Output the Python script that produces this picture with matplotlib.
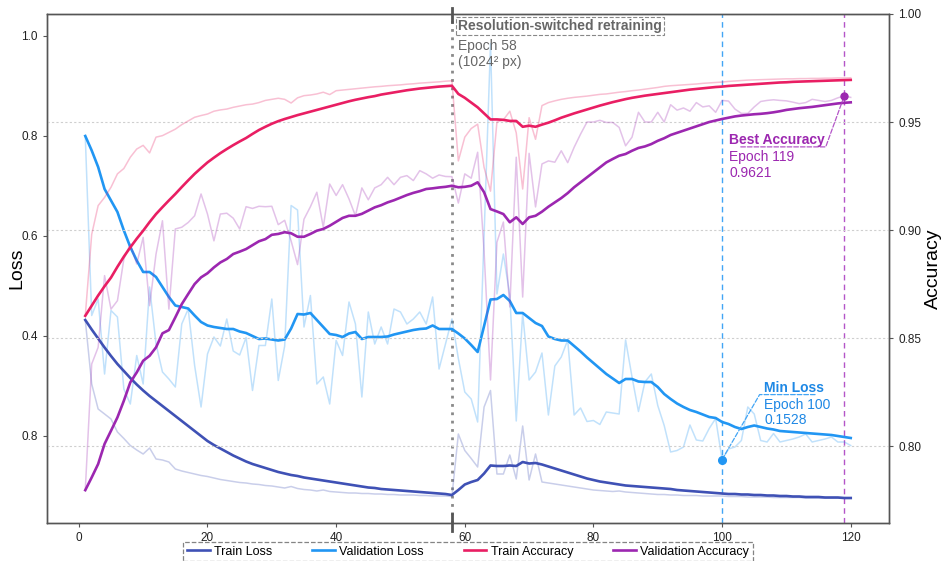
import matplotlib
matplotlib.use("Agg")

import numpy as np
import matplotlib.pyplot as plt

plt.rcParams["font.family"] = ["Liberation Sans", "DejaVu Sans"]

# ── Training history (per epoch) ─────────────────────────────────────────────
epochs = np.arange(1, 121)

train_loss_raw = [
    .432, .304, .254, .244, .234, .208, .195, .181, .172, .164,
    .176, .154, .152, .148, .134, .130, .127, .124, .121, .119,
    .116, .113, .111, .109, .107, .106, .104, .103, .101, .100,
    .098, .096, .099, .095, .093, .092, .090, .092, .089, .088,
    .087, .086, .086, .085, .085, .084, .084, .083, .083, .082,
    .082, .082, .081, .081, .080, .080, .080, .079, .204, .171,
    .155, .138, .258, .291, .124, .124, .162, .114, .220, .112,
    .164, .108, .106, .104, .102, .100, .098, .096, .094, .092,
    .091, .090, .089, .090, .088, .087, .086, .085, .084, .083,
    .083, .082, .082, .081, .081, .081, .080, .080, .080, .080,
    .079, .079, .079, .078, .078, .078, .078, .077, .077, .077,
    .077, .077, .076, .076, .076, .076, .076, .076, .076, .076,
]
train_loss_smooth = [
    .432, .413, .395, .377, .360, .344, .330, .316, .303, .291,
    .280, .270, .260, .250, .240, .230, .220, .210, .200, .190,
    .182, .175, .168, .161, .155, .149, .144, .140, .136, .132,
    .128, .125, .122, .120, .117, .115, .113, .111, .109, .107,
    .105, .103, .101, .099, .097, .096, .094, .093, .092, .091,
    .090, .089, .088, .087, .086, .085, .084, .082, .092, .103,
    .108, .112, .125, .141, .140, .140, .141, .140, .148, .145,
    .146, .143, .139, .135, .131, .127, .123, .119, .115, .112,
    .109, .107, .105, .103, .101, .100, .099, .098, .097, .096,
    .095, .094, .092, .091, .090, .089, .088, .087, .086, .085,
    .084, .084, .083, .083, .082, .082, .081, .081, .080, .080,
    .079, .079, .078, .078, .078, .077, .077, .077, .076, .076,
]
val_loss_raw = [
    .800, .441, .474, .324, .451, .438, .294, .264, .361, .304,
    .498, .384, .328, .314, .298, .424, .454, .341, .258, .364,
    .398, .380, .434, .370, .362, .397, .291, .381, .381, .474,
    .311, .380, .661, .652, .418, .481, .304, .318, .264, .391,
    .361, .468, .424, .278, .448, .384, .418, .384, .454, .448,
    .424, .434, .448, .424, .478, .334, .384, .434, .355, .288,
    .274, .228, .600, .985, .484, .564, .481, .230, .445, .312,
    .328, .366, .242, .340, .358, .392, .242, .256, .229, .231,
    .223, .248, .246, .244, .392, .318, .249, .308, .324, .261,
    .221, .168, .171, .178, .222, .192, .190, .215, .235, .1528,
    .174, .178, .191, .258, .244, .191, .188, .205, .188, .191,
    .194, .198, .204, .188, .191, .194, .198, .188, .188, .181,
]
val_loss_smooth = [
    .800, .771, .738, .694, .671, .648, .611, .578, .551, .528,
    .528, .518, .498, .478, .461, .458, .455, .441, .428, .421,
    .418, .416, .414, .414, .409, .406, .400, .394, .395, .393,
    .391, .393, .415, .444, .443, .446, .432, .418, .404, .402,
    .398, .405, .408, .394, .398, .398, .398, .399, .403, .406,
    .409, .412, .414, .415, .421, .414, .414, .414, .405, .395,
    .382, .368, .420, .473, .474, .482, .470, .446, .446, .436,
    .426, .420, .399, .394, .391, .391, .380, .369, .357, .346,
    .335, .324, .315, .306, .314, .314, .309, .308, .308, .298,
    .284, .274, .265, .258, .252, .248, .243, .238, .236, .228,
    .224, .218, .214, .218, .221, .218, .215, .213, .210, .209,
    .208, .207, .206, .205, .204, .203, .202, .200, .198, .196,
]
train_acc_raw = [
    .8603, .8980, .9113, .9151, .9198, .9260, .9285, .9337, .9375, .9392,
    .9357, .9430, .9437, .9452, .9467, .9488, .9505, .9522, .9530, .9537,
    .9550, .9556, .9560, .9568, .9574, .9580, .9583, .9590, .9600, .9605,
    .9610, .9605, .9588, .9612, .9622, .9625, .9630, .9638, .9627, .9645,
    .9648, .9651, .9654, .9657, .9660, .9663, .9665, .9668, .9670, .9672,
    .9675, .9677, .9680, .9682, .9684, .9686, .9689, .9691, .9320, .9430,
    .9470, .9490, .9290, .9180, .9500, .9510, .9550, .9450, .9190, .9520,
    .9420, .9576, .9590, .9598, .9605, .9610, .9614, .9617, .9620, .9624,
    .9628, .9630, .9634, .9638, .9641, .9645, .9648, .9652, .9656, .9660,
    .9665, .9668, .9670, .9672, .9674, .9676, .9679, .9681, .9683, .9685,
    .9688, .9690, .9692, .9694, .9695, .9696, .9697, .9698, .9699, .9700,
    .9700, .9701, .9701, .9702, .9702, .9703, .9703, .9704, .9704, .9705,
]
train_acc_smooth = [
    .8603, .8650, .8697, .8740, .8780, .8830, .8877, .8920, .8960, .8997,
    .9037, .9074, .9106, .9137, .9167, .9199, .9230, .9260, .9287, .9313,
    .9335, .9356, .9375, .9393, .9410, .9426, .9445, .9463, .9478, .9492,
    .9504, .9514, .9523, .9532, .9540, .9548, .9556, .9564, .9572, .9580,
    .9588, .9596, .9603, .9609, .9615, .9620, .9627, .9632, .9637, .9642,
    .9647, .9651, .9655, .9658, .9661, .9664, .9666, .9668, .9630, .9612,
    .9590, .9568, .9540, .9512, .9512, .9510, .9505, .9505, .9478, .9483,
    .9478, .9488, .9497, .9508, .9520, .9530, .9540, .9549, .9558, .9567,
    .9576, .9584, .9592, .9599, .9606, .9612, .9617, .9622, .9626, .9630,
    .9634, .9638, .9642, .9646, .9650, .9653, .9656, .9659, .9662, .9664,
    .9667, .9669, .9671, .9673, .9675, .9677, .9679, .9681, .9683, .9684,
    .9686, .9687, .9688, .9689, .9690, .9691, .9692, .9693, .9694, .9695,
]
val_acc_raw = [
    .7796, .8380, .8457, .8789, .8634, .8673, .8866, .8935, .8843, .8966,
    .8650, .8889, .9043, .8634, .9005, .9013, .9035, .9066, .9167, .9074,
    .8950, .9074, .9078, .9055, .9005, .9108, .9100, .9110, .9108, .9110,
    .9025, .9045, .8950, .8840, .9050, .9108, .9175, .9013, .9213, .9160,
    .9210, .9144, .9066, .9195, .9140, .9195, .9210, .9244, .9210, .9244,
    .9252, .9229, .9275, .9260, .9240, .9255, .9248, .9247, .9125, .9260,
    .9240, .9360, .8900, .8306, .8944, .9037, .8644, .9337, .8690, .9355,
    .9107, .9306, .9320, .9314, .9367, .9312, .9383, .9444, .9500, .9500,
    .9508, .9498, .9498, .9475, .9390, .9430, .9545, .9500, .9500, .9545,
    .9500, .9580, .9555, .9565, .9550, .9590, .9570, .9575, .9545, .9600,
    .9597, .9560, .9540, .9540, .9570, .9595, .9600, .9603, .9600, .9598,
    .9592, .9585, .9590, .9605, .9600, .9595, .9600, .9612, .9621, .9614,
]
val_acc_smooth = [
    .7796, .7855, .7917, .8010, .8071, .8133, .8210, .8295, .8341, .8395,
    .8418, .8457, .8522, .8537, .8596, .8657, .8704, .8750, .8781, .8800,
    .8827, .8850, .8866, .8889, .8900, .8912, .8930, .8948, .8958, .8978,
    .8982, .8990, .8985, .8969, .8969, .8982, .8997, .9005, .9020, .9038,
    .9056, .9066, .9066, .9075, .9090, .9105, .9115, .9128, .9138, .9150,
    .9162, .9172, .9180, .9190, .9193, .9197, .9200, .9205, .9198, .9200,
    .9205, .9221, .9175, .9097, .9086, .9074, .9036, .9059, .9028, .9059,
    .9066, .9085, .9108, .9128, .9148, .9171, .9198, .9221, .9244, .9267,
    .9290, .9313, .9329, .9344, .9352, .9367, .9380, .9387, .9398, .9413,
    .9425, .9440, .9450, .9460, .9470, .9480, .9490, .9500, .9507, .9514,
    .9520, .9526, .9530, .9533, .9536, .9538, .9541, .9545, .9550, .9556,
    .9560, .9564, .9567, .9570, .9574, .9578, .9582, .9586, .9589, .9591,
]

SWITCH_EPOCH = 58
loss_ticks = [0.2, 0.4, 0.6, 0.8, 1.0]
loss_tick_labels = ["0.8", "0.4", "0.6", "0.8", "1.0"]
acc_ticks = [0.80, 0.85, 0.90, 0.95, 1.00]
x_ticks = [0, 20, 40, 60, 80, 100, 120]

# ── Style ────────────────────────────────────────────────────────────────────
C_TL = "#3F51B5"   # train loss
C_VL = "#2196F3"   # validation loss
C_TA = "#E91E63"   # train accuracy
C_VA = "#9C27B0"   # validation accuracy
RAW_ALPHA = 0.28
LW_RAW = 1.1
LW = 1.9

fig, ax = plt.subplots(figsize=(9.51, 5.61), dpi=100)
fig.subplots_adjust(left=47 / 951, right=889 / 951, bottom=1 - 523 / 561, top=1 - 14 / 561)
ax2 = ax.twinx()

# raw (faint) and smoothed curves
ax.plot(epochs, train_loss_raw, color=C_TL, lw=LW_RAW, alpha=RAW_ALPHA)
ax.plot(epochs, val_loss_raw, color=C_VL, lw=LW_RAW, alpha=RAW_ALPHA)
l_tl, = ax.plot(epochs, train_loss_smooth, color=C_TL, lw=LW, label="Train Loss")
l_vl, = ax.plot(epochs, val_loss_smooth, color=C_VL, lw=LW, label="Validation Loss")

ax2.plot(epochs, train_acc_raw, color=C_TA, lw=LW_RAW, alpha=RAW_ALPHA)
ax2.plot(epochs, val_acc_raw, color=C_VA, lw=LW_RAW, alpha=RAW_ALPHA)
l_ta, = ax2.plot(epochs, train_acc_smooth, color=C_TA, lw=LW, label="Train Accuracy")
l_va, = ax2.plot(epochs, val_acc_smooth, color=C_VA, lw=LW, label="Validation Accuracy")

# ── Axes ─────────────────────────────────────────────────────────────────────
ax.set_ylim(0.026, 1.044)
ax2.set_ylim(0.7644, 1.0)
ax.set_xticks(x_ticks)
ax.set_yticks(loss_ticks)
ax.set_yticklabels(loss_tick_labels)
ax2.set_yticks(acc_ticks)
ax2.set_yticklabels([f"{t:.2f}" for t in acc_ticks])

ax.set_ylabel("Loss", fontsize=14)
ax.yaxis.set_label_coords(-0.026, 0.5)
ax2.set_ylabel("Accuracy", fontsize=14, labelpad=3)

for a in (ax, ax2):
    a.tick_params(labelsize=8.5, length=3, width=0.8, color="#555", labelcolor="#222")
    for s in a.spines.values():
        s.set_color("#555")
        s.set_linewidth(1.0)

ax2.yaxis.grid(True, linestyle=(0, (2, 2)), color="#cfcfcf", linewidth=0.8)
ax2.set_axisbelow(True)

# ── Resolution switch marker ─────────────────────────────────────────────────
ax.axvline(SWITCH_EPOCH, color="#8a8a8a", lw=2.0, ls=(0, (1, 2)), zorder=1)
for y0, y1 in ((0.984, 1.012), (-0.016, 0.018)):
    ax.plot([SWITCH_EPOCH, SWITCH_EPOCH], [y0, y1], color="#555", lw=2.0,
            transform=ax.get_xaxis_transform(), clip_on=False, zorder=5)

ax2.annotate("Resolution-switched retraining", xy=(SWITCH_EPOCH, 1.0),
             xycoords=("data", "axes fraction"), xytext=(6, -5), textcoords="offset pixels",
             ha="left", va="top", fontsize=10, fontweight="bold", color="#666",
             bbox=dict(boxstyle="square,pad=0.15", fc="white", ec="#888", ls="--", lw=0.8))
ax2.annotate(f"Epoch {SWITCH_EPOCH}\n(1024² px)", xy=(SWITCH_EPOCH, 1.0),
             xycoords=("data", "axes fraction"), xytext=(6, -25), textcoords="offset pixels",
             ha="left", va="top", fontsize=10, color="#666", linespacing=1.15)

# ── Best accuracy / min loss callouts ────────────────────────────────────────
best_i = int(np.argmax(val_acc_raw))
best_ep, best_acc = epochs[best_i], val_acc_raw[best_i]
min_i = int(np.argmin(val_loss_raw))
min_ep, min_loss = epochs[min_i], val_loss_raw[min_i]

ax.axvline(min_ep, color="#42A5F5", lw=1.0, ls=(0, (4, 3)), zorder=1)
ax.axvline(best_ep, color="#B455C8", lw=1.0, ls=(0, (4, 3)), zorder=1)

ax.plot(min_ep, min_loss, "o", color=C_VL, ms=5.5, zorder=6)
ax2.plot(best_ep, best_acc, "o", color=C_VA, ms=5, zorder=6)

ax2.annotate("Best Accuracy", xy=(best_ep, best_acc), xytext=(-115, -51),
             textcoords="offset pixels", ha="left", va="bottom",
             fontsize=10, fontweight="bold", color=C_VA,
             arrowprops=dict(arrowstyle="-", color="#B455C8", lw=0.9, ls="--",
                             relpos=(0.12, 0), patchA=None, shrinkA=0, shrinkB=3,
                             connectionstyle="angle,angleA=0,angleB=70,rad=0"))
ax2.annotate(f"Epoch {best_ep}\n{best_acc:.4f}", xy=(best_ep, best_acc), xytext=(-115, -54),
             textcoords="offset pixels", ha="left", va="top",
             fontsize=10, color=C_VA, linespacing=1.15)

ax.annotate("Min Loss", xy=(min_ep, min_loss), xytext=(42, 65),
            textcoords="offset pixels", ha="left", va="bottom",
            fontsize=10, fontweight="bold", color="#1E88E5",
            arrowprops=dict(arrowstyle="-", color="#42A5F5", lw=0.9, ls="--",
                            relpos=(0.85, 0), patchA=None, shrinkA=0, shrinkB=3,
                            connectionstyle="angle,angleA=0,angleB=60,rad=0"))
ax.annotate(f"Epoch {min_ep}\n{min_loss:.4f}", xy=(min_ep, min_loss), xytext=(42, 62),
            textcoords="offset pixels", ha="left", va="top",
            fontsize=10, color="#1E88E5", linespacing=1.15)

# ── Legend ───────────────────────────────────────────────────────────────────
leg = ax2.legend(handles=[l_tl, l_vl, l_ta, l_va], loc="upper center",
                 bbox_to_anchor=(0.5, -0.037), borderaxespad=0, ncol=4, fontsize=9,
                 frameon=True, edgecolor="#666", fancybox=False, handlelength=1.8,
                 handletextpad=0.35, columnspacing=3.2, borderpad=0.3)
leg.get_frame().set_linestyle("--")
leg.get_frame().set_linewidth(0.9)

fig.savefig("out.png", dpi=100)
